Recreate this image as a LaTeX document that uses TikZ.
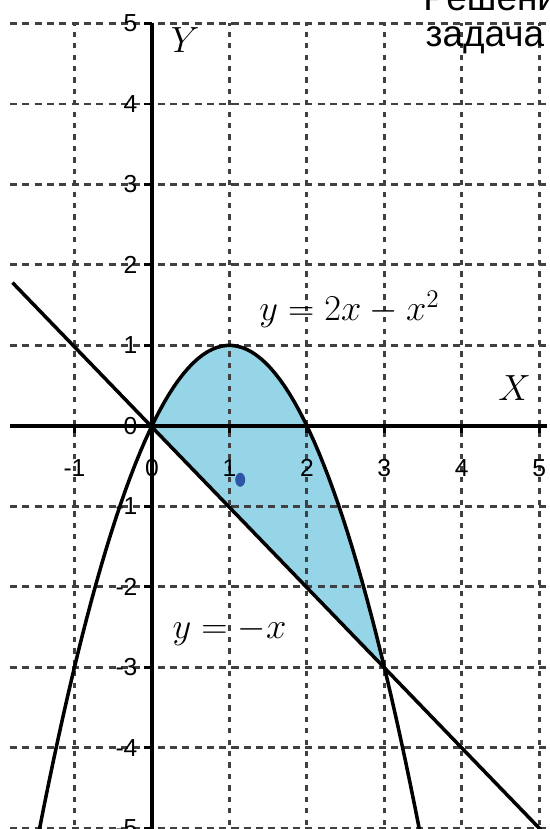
\documentclass[tikz,border=0pt]{standalone}
\usepackage{fontspec}
\setmainfont{Liberation Sans}
\usetikzlibrary{positioning}
\definecolor{areablue}{RGB}{150,213,232}
\definecolor{dotblue}{RGB}{45,85,165}

\begin{document}
\begin{tikzpicture}[
  x=1.55cm, y=1.61cm,
  gridline/.style={dash pattern=on 4pt off 3pt, line width=1.6pt, black!75},
  vgridline/.style={gridline, dash pattern=on 3pt off 3.5pt},
  axis/.style={line width=2.2pt, black},
  curve/.style={line width=2pt, black, line join=round},
  ticklabel/.style={font=\fontsize{14}{16}\selectfont, inner sep=1pt},
  curvelabel/.style={font=\fontsize{20}{24}\selectfont, inner sep=1pt},
  titletext/.style={font=\fontsize{21}{25}\selectfont, inner sep=0pt}
]
  \useasboundingbox (-1.961,-5.01) rectangle (5.135,5.292);
  \clip (-1.961,-5.01) rectangle (5.135,5.292);

  % shaded area between the two graphs
  \fill[areablue] plot[domain=0:3, samples=50] (\x,{2*\x-\x*\x}) -- cycle;

  % grid
  \foreach \k in {-5,...,-1,1,2,3,4,5}
    \draw[gridline] (-1.83,\k) -- (5.1,\k);
  \foreach \k in {-1,1,2,3,4,5}
    \draw[vgridline] (\k,-5.1) -- (\k,5);

  % axes and ticks
  \draw[axis] (-1.83,0) -- (5.1,0);
  \draw[axis] (0,-5.1) -- (0,5);
  \foreach \k in {-5,...,5}
    \draw[line width=1.6pt] (-0.1,\k) -- (0,\k);
  \foreach \k in {-1,1,2,3,4,5}
    \draw[line width=1.6pt] (\k,0) -- (\k,-0.09);

  % tick labels
  \foreach \k in {-5,...,5}
    \node[ticklabel, anchor=east] (ylab\k) at (-0.16,\k) {\k};
  \foreach \k in {-1,...,5}
    \node[ticklabel] (xlab\k) at (\k,-0.52) {\k};

  % axis names
  \node[curvelabel, font=\fontsize{22}{26}\selectfont] (ynam) at (0.43,4.8) {$Y$};
  \node[curvelabel, font=\fontsize{22}{26}\selectfont] (xnam) at (4.68,0.47) {$X$};

  % graphs
  \draw[curve] plot[domain=-1.46:3.46, samples=80] (\x,{2*\x-\x*\x});
  \draw[curve] (-1.8,1.78) -- (5.1,-5.1);

  % graph labels
  \node[curvelabel] (parab) at (2.55,1.45) {$y = 2x - x^2$};
  \node[curvelabel] (line) at (1.0,-2.55) {$y = -x$};

  % marker
  \fill[dotblue] (1.14,-0.67) ellipse [x radius=0.1cm, y radius=0.14cm];

  % title, cut by the frame
  \node[titletext, anchor=base west] (head) at (3.50,5.16) {Решение};
  \node[titletext, anchor=base west] (task) at (3.53,4.71) {задача};
\end{tikzpicture}
\end{document}
